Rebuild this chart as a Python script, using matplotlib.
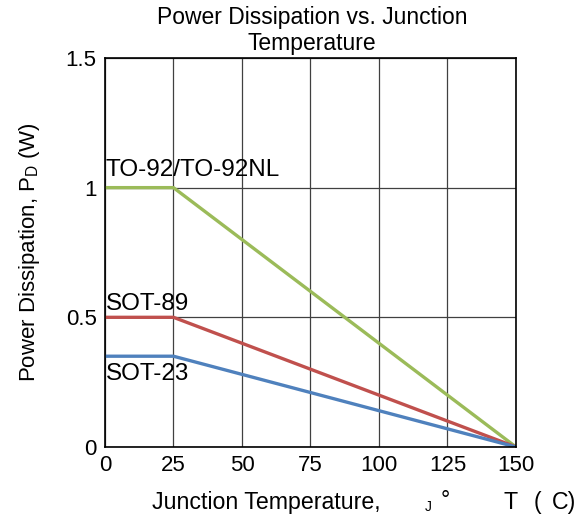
import numpy as np
import matplotlib.pyplot as plt

plt.rcParams['font.family'] = ['Liberation Sans', 'DejaVu Sans']

# --- Data ---
temps = [0, 25, 150]
to92 = [1.0, 1.0, 0.0]
sot89 = [0.5, 0.5, 0.0]
sot23 = [0.35, 0.35, 0.0]

series = [
    ("TO-92/TO-92NL", to92, "#9BBB59"),
    ("SOT-89", sot89, "#C0504D"),
    ("SOT-23", sot23, "#4F81BD"),
]

fig = plt.figure(figsize=(5.83, 5.25), dpi=100)
ax = fig.add_axes([0.180, 0.1486, 0.705, 0.741])

for name, vals, col in series:
    ax.plot(temps, vals, color=col, lw=2.4, solid_capstyle='butt')

ax.set_xlim(0, 150)
ax.set_ylim(0, 1.5)
ax.set_xticks(np.arange(0, 151, 25))
ax.set_yticks([0, 0.5, 1, 1.5])
ax.set_yticklabels(["0", "0.5", "1", "1.5"])
ax.grid(True, color="#404040", lw=0.9)
ax.set_axisbelow(True)
ax.tick_params(length=0, labelsize=16, pad=6)
for s in ax.spines.values():
    s.set_color("black")
    s.set_linewidth(1.2)

# series labels
ax.text(0.3, 1.025, "TO-92/TO-92NL", fontsize=17.5, va='bottom', ha='left')
ax.text(0.3, 0.51, "SOT-89", fontsize=17.5, va='bottom', ha='left')
ax.text(0.3, 0.325, "SOT-23", fontsize=17.5, va='top', ha='left')

fig.suptitle("Power Dissipation vs. Junction\nTemperature", x=0.535, y=0.988,
             fontsize=16.5, va='top', linespacing=1.15)
ax.set_ylabel("Power Dissipation, P$_\\mathregular{D}$ (W)", fontsize=16, labelpad=17)

# x axis label (pieces spaced as in the original)
xl_y = 0.042
fig.text(0.261, xl_y, "Junction Temperature,", fontsize=16.7, ha='left', va='center')
fig.text(0.729, xl_y - 0.008, "J", fontsize=10, ha='left', va='center')
fig.text(0.755, xl_y + 0.004, "°", fontsize=16.7, ha='left', va='center')
fig.text(0.864, xl_y, "T", fontsize=16.7, ha='left', va='center')
fig.text(0.915, xl_y, "(", fontsize=16.7, ha='left', va='center')
fig.text(0.946, xl_y, "C)", fontsize=16.7, ha='left', va='center')

fig.savefig("out.png", dpi=100)
